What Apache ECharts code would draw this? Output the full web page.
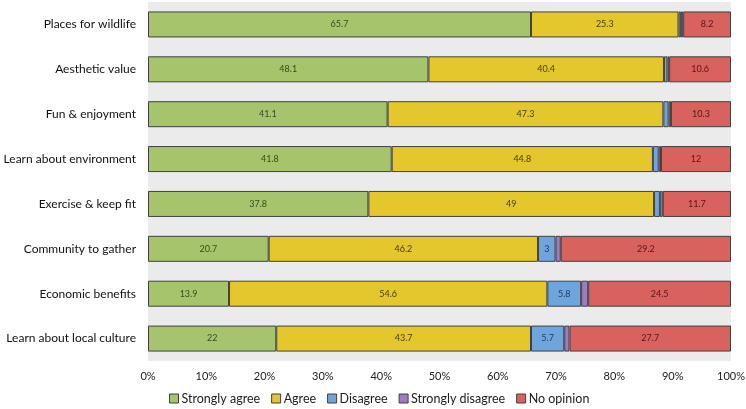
<!DOCTYPE html>
<html><head><meta charset="utf-8">
<script src="https://cdn.jsdelivr.net/npm/echarts@6/dist/echarts.min.js"></script>
<style>html,body{margin:0;padding:0;background:#fff}#c{width:746px;height:409px}</style>
</head><body><div id="c"></div>
<script>
var categories = ["Places for wildlife","Aesthetic value","Fun & enjoyment","Learn about environment","Exercise & keep fit","Community to gather","Economic benefits","Learn about local culture"];
var stronglyAgree = [65.7, 48.1, 41.1, 41.8, 37.8, 20.7, 13.9, 22];
var agree = [25.3, 40.4, 47.3, 44.8, 49, 46.2, 54.6, 43.7];
var disagree = [0.4, 0.6, 0.9, 1.0, 1.0, 3, 5.8, 5.7];
var stronglyDisagree = [0.4, 0.3, 0.4, 0.4, 0.5, 0.9, 1.2, 0.9];
var noOpinion = [8.2, 10.6, 10.3, 12, 11.7, 29.2, 24.5, 27.7];
var xTicks = [0,10,20,30,40,50,60,70,80,90,100];

var FONT = 'Lato';
function mk(name, data, color, labelColor, minShow) {
  return {
    name: name, type: 'bar', stack: 'total', data: data, barWidth: 26,
    itemStyle: { color: color, borderColor: '#404040', borderWidth: 1 },
    label: {
      show: labelColor !== null, position: 'inside', fontSize: 9, fontFamily: FONT,
      color: labelColor || '#000',
      formatter: function (p) { return p.value >= minShow ? String(p.value) : ''; }
    },
    emphasis: { disabled: true }
  };
}
var chart = echarts.init(document.getElementById('c'), null, { renderer: 'canvas' });
chart.setOption({
  animation: false,
  backgroundColor: '#ffffff',
  textStyle: { fontFamily: FONT },
  grid: { left: 148, right: 15, top: 2, height: 359, show: true, backgroundColor: '#ebebeb', borderWidth: 0, containLabel: false, outerBoundsMode: 'none' },
  xAxis: {
    type: 'value', min: xTicks[0], max: xTicks[xTicks.length - 1], interval: 10,
    axisLine: { show: false }, axisTick: { show: false }, splitLine: { show: false },
    axisLabel: { formatter: '{value}%', color: '#222', fontSize: 11, fontFamily: FONT, margin: 10 }
  },
  yAxis: {
    type: 'category', data: categories, inverse: true,
    axisLine: { show: false }, axisTick: { show: false },
    axisLabel: { color: '#111', fontSize: 12, fontFamily: FONT, margin: 12 }
  },
  legend: {
    left: 164, top: 387, itemWidth: 9, itemHeight: 9, itemGap: 11,
    icon: 'rect',
    itemStyle: { borderColor: '#404040', borderWidth: 1 },
    textStyle: { fontSize: 12.5, color: '#222', fontFamily: FONT, padding: [0, 0, 0, -2] },
    data: ['Strongly agree', 'Agree', 'Disagree', 'Strongly disagree', 'No opinion']
  },
  series: [
    mk('Strongly agree', stronglyAgree, '#a5c46b', '#3b4a1c', 2),
    mk('Agree', agree, '#e3c72d', '#4a3f08', 2),
    mk('Disagree', disagree, '#6fa5dd', '#1e3c66', 2),
    mk('Strongly disagree', stronglyDisagree, '#9b7dc0', null, 2),
    mk('No opinion', noOpinion, '#d8625d', '#5a1515', 2)
  ]
});
</script>
</body></html>
